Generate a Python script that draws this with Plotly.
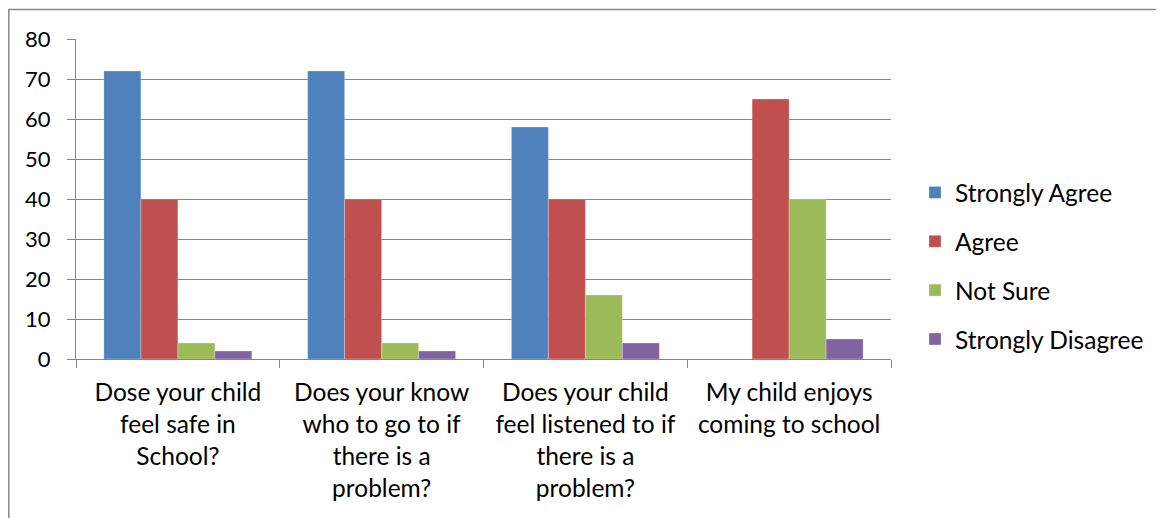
import plotly.graph_objects as go

categories = [
    "Dose your child<br>feel safe in<br>School?",
    "Does your know<br>who to go to if<br>there is a<br>problem?",
    "Does your child<br>feel listened to if<br>there is a<br>problem?",
    "My child enjoys<br>coming to school",
]
series_names = ["Strongly Agree", "Agree", "Not Sure", "Strongly Disagree"]
strongly_agree = [72, 72, 58, 0]
agree = [40, 40, 40, 65]
not_sure = [4, 4, 16, 40]
strongly_disagree = [2, 2, 4, 5]
y_ticks = [0, 10, 20, 30, 40, 50, 60, 70, 80]

colors = ["#4F81BD", "#C0504D", "#9BBB59", "#8064A2"]
values = [strongly_agree, agree, not_sure, strongly_disagree]

FONT = "Lato"
OFF = 8  # page body margin
W, H = 1164 - OFF, 518 - OFF
L, T = 76 - OFF, 39 - OFF
R = W - (891 - OFF)
B = H - (359 - OFF)
pw, ph = W - L - R, H - T - B

fig = go.Figure()
for name, vals, col in zip(series_names, values, colors):
    fig.add_trace(go.Bar(
        x=categories, y=vals, name=name, legendgroup=name,
        marker=dict(color=col, line=dict(color="rgba(255,255,255,0.5)", width=0.5)),
    ))

def px_x(p):
    return (p - OFF - L) / pw

def px_y(p):
    return (H - B - (p - OFF)) / ph

fig.update_layout(
    width=W, height=H,
    margin=dict(l=L, r=R, t=T, b=B, autoexpand=False),
    paper_bgcolor="white", plot_bgcolor="white",
    barmode="group", bargap=0.274, bargroupgap=0,
    font=dict(family=FONT, size=24.5, color="#000000"),
    showlegend=True,
    legend=dict(
        x=px_x(915), y=px_y(266), xanchor="left", yanchor="middle",
        traceorder="grouped", tracegroupgap=14,
        font=dict(family=FONT, size=24.5, color="#000000"),
        bgcolor="rgba(0,0,0,0)",
    ),
    xaxis=dict(
        showline=True, linecolor="#868686", linewidth=1,
        ticks="outside", ticklen=8, tickcolor="#868686", tickson="boundaries",
        showgrid=False, tickfont=dict(family=FONT, size=24.5),
        ticklabelstandoff=12, fixedrange=True,
    ),
    yaxis=dict(
        range=[0, 80], tickvals=y_ticks, ticktext=[str(v) for v in y_ticks],
        showline=True, linecolor="#868686", linewidth=1,
        ticks="outside", ticklen=8, tickcolor="#868686",
        showgrid=True, gridcolor="#868686", gridwidth=1,
        zeroline=False, tickfont=dict(family=FONT, size=22),
        ticklabelstandoff=12,
    ),
    shapes=[dict(
        type="rect", xref="paper", yref="paper",
        x0=px_x(8.8), x1=px_x(1180), y0=px_y(540), y1=px_y(9.5),
        line=dict(color="#878787", width=1.5), fillcolor="rgba(0,0,0,0)",
        layer="below",
    )],
)

fig.write_html("out.html")
